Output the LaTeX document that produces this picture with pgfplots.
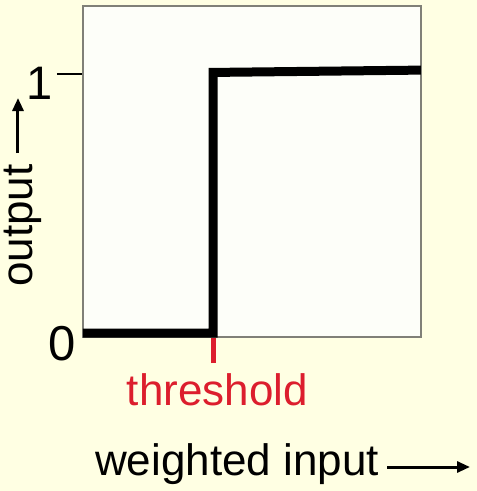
\documentclass[border=0pt]{standalone}
\usepackage{pgfplots}
\pgfplotsset{compat=1.18}
\usepackage{fontspec}
\setmainfont{Liberation Sans}
\usetikzlibrary{arrows.meta}
\definecolor{bgyellow}{RGB}{255,255,227}
\definecolor{plotbg}{RGB}{253,254,249}
\definecolor{boxgray}{RGB}{128,128,120}
\definecolor{thred}{RGB}{220,30,45}
\begin{document}
\begin{tikzpicture}
\fill[bgyellow] (-83pt,-154pt) rectangle (394pt,337pt);
\begin{axis}[
  at={(0pt,0pt)}, anchor=south west,
  scale only axis, width=338pt, height=331pt,
  xmin=0, xmax=1, ymin=-0.0154, ymax=1.2625,
  axis background/.style={fill=plotbg},
  axis line style={boxgray, line width=1.5pt},
  tick align=outside,
  ytick={1}, yticklabels={}, ytick pos=left,
  ytick style={black, line width=2.5pt},
  xtick={0.385}, xticklabels={}, xtick pos=bottom,
  xtick style={thred, line width=5pt},
  major tick length=26pt,
]
\addplot[black, line width=9pt, mark=none] coordinates {(0,0) (0.385,0) (0.385,1.006) (1,1.015)};
\end{axis}
\node[font=\fontsize{47}{50}\selectfont, inner sep=0pt, anchor=center] at (-43pt,254pt) {1};
\node[font=\fontsize{49}{52}\selectfont, inner sep=0pt, anchor=center] at (-20.5pt,-6.5pt) {0};
\node[font=\fontsize{44}{48}\selectfont, text=thred, inner sep=0pt, anchor=base] at (134.5pt,-68pt) {threshold};
\node[font=\fontsize{44}{48}\selectfont, inner sep=0pt, anchor=base west] at (12pt,-138pt) {weighted input};
\draw[black, line width=3pt, -{Triangle[length=13pt,width=11pt]}] (304pt,-130pt) -- (387pt,-130pt);
\node[font=\fontsize{44}{48}\selectfont, inner sep=0pt, anchor=base west, rotate=90] at (-50pt,50pt) {output};
\draw[black, line width=3pt, -{Triangle[length=13pt,width=11pt]}] (-65pt,184pt) -- (-65pt,239pt);
\end{tikzpicture}
\end{document}
